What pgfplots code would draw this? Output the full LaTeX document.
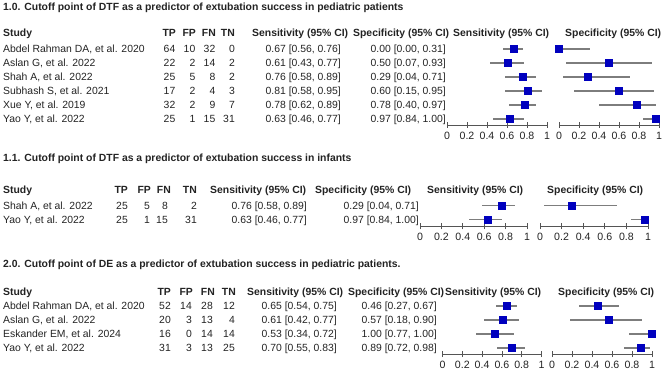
\documentclass[border=0pt]{standalone}
\usepackage{pgfplots}
\pgfplotsset{compat=1.18}
\usepackage{fontspec}
\setmainfont{Liberation Sans}
\definecolor{sq}{RGB}{0,0,190}
\definecolor{ci}{RGB}{125,125,125}
\definecolor{txt}{RGB}{35,35,35}
\definecolor{ax}{RGB}{85,85,85}
\newcommand\tf{\fontsize{10.6}{11}\selectfont}
\pgfplotsset{forest/.style={
  anchor=south west, y=14pt, ymax=-0.3,
  xmin=0, xmax=1, axis x line*=bottom, axis y line=none, ytick=\empty,
  xtick={0,0.2,0.4,0.6,0.8,1},
  xticklabels={\tf 0,\tf 0.2,\tf 0.4,\tf 0.6,\tf 0.8,\tf 1},
  tick align=center, major tick length=6pt,
  every tick/.style={ax, line width=0.8pt},
  x axis line style={ax, line width=0.8pt},
  xticklabel style={text=txt, yshift=-0.5pt},
  clip=false,
}}
\pgfplotsset{ptstyle/.style={only marks, mark=square*, mark size=3.5pt,
  mark options={fill=sq, draw=sq},
  error bars/.cd, x dir=both, x explicit,
  error bar style={ci, line width=1.3pt}, error mark=none}}
\newcommand\tl[3]{\node[anchor=base west,inner sep=0pt] at (#1pt,-#2pt) {#3};}
\newcommand\tr[3]{\node[anchor=base east,inner sep=0pt] at (#1pt,-#2pt) {#3};}
\begin{document}
\begin{tikzpicture}
\useasboundingbox (0pt,0pt) rectangle (666pt,-371pt);
\begin{scope}[font=\fontsize{10.4}{12.5}\selectfont, text=txt]
% ---------- Section 1.0 ----------
\tl{3}{10.7}{\bfseries 1.0. Cutoff point of DTF as a predictor of extubation success in pediatric patients}
\tl{3}{36.7}{\bfseries Study}
\tr{176}{36.7}{\bfseries TP}\tr{196}{36.7}{\bfseries FP}\tr{216}{36.7}{\bfseries FN}\tr{235}{36.7}{\bfseries TN}
\tl{252}{36.7}{\bfseries Sensitivity (95\% CI)}
\tl{353}{36.7}{\bfseries Specificity (95\% CI)}
\tl{453}{36.7}{\bfseries Sensitivity (95\% CI)}
\tl{565}{36.7}{\bfseries Specificity (95\% CI)}
\foreach \y/\s/\a/\b/\c/\d/\se/\sp in {
 52.7/Abdel Rahman DA{,} et al. 2020/64/10/32/0/0.67 [0.56{,} 0.76]/0.00 [0.00{,} 0.31],
 66.7/Aslan G{,} et al. 2022/22/2/14/2/0.61 [0.43{,} 0.77]/0.50 [0.07{,} 0.93],
 80.7/Shah A{,} et al. 2022/25/5/8/2/0.76 [0.58{,} 0.89]/0.29 [0.04{,} 0.71],
 94.7/Subhash S{,} et al. 2021/17/2/4/3/0.81 [0.58{,} 0.95]/0.60 [0.15{,} 0.95],
 108.7/Xue Y{,} et al. 2019/32/2/9/7/0.78 [0.62{,} 0.89]/0.78 [0.40{,} 0.97],
 122.7/Yao Y{,} et al. 2022/25/1/15/31/0.63 [0.46{,} 0.77]/0.97 [0.84{,} 1.00]}{
 \tl{3}{\y}{\s}\tr{175.5}{\y}{\a}\tr{195.5}{\y}{\b}\tr{215.5}{\y}{\c}\tr{235}{\y}{\d}
 \tr{341}{\y}{\se}\tr{446}{\y}{\sp}
}
% ---------- Section 1.1 ----------
\tl{3}{161.7}{\bfseries 1.1. Cutoff point of DTF as a predictor of extubation success in infants}
\tl{3}{193.7}{\bfseries Study}
\tr{128}{193.7}{\bfseries TP}\tr{151}{193.7}{\bfseries FP}\tr{171}{193.7}{\bfseries FN}\tr{197}{193.7}{\bfseries TN}
\tl{210}{193.7}{\bfseries Sensitivity (95\% CI)}
\tl{315}{193.7}{\bfseries Specificity (95\% CI)}
\tl{427}{193.7}{\bfseries Sensitivity (95\% CI)}
\tl{547}{193.7}{\bfseries Specificity (95\% CI)}
\foreach \y/\s/\a/\b/\c/\d/\se/\sp in {
 209.2/Shah A{,} et al. 2022/25/5/8/2/0.76 [0.58{,} 0.89]/0.29 [0.04{,} 0.71],
 223.2/Yao Y{,} et al. 2022/25/1/15/31/0.63 [0.46{,} 0.77]/0.97 [0.84{,} 1.00]}{
 \tl{3}{\y}{\s}\tr{128}{\y}{\a}\tr{150}{\y}{\b}\tr{168}{\y}{\c}\tr{197}{\y}{\d}
 \tr{307}{\y}{\se}\tr{419}{\y}{\sp}
}
% ---------- Section 2.0 ----------
\tl{3}{267}{\bfseries 2.0. Cutoff point of DE as a predictor of extubation success in pediatric patients.}
\tl{3}{295.4}{\bfseries Study}
\tr{171}{295.4}{\bfseries TP}\tr{193}{295.4}{\bfseries FP}\tr{215}{295.4}{\bfseries FN}\tr{236}{295.4}{\bfseries TN}
\tl{247}{295.4}{\bfseries Sensitivity (95\% CI)}
\tl{348}{295.4}{\bfseries Specificity (95\% CI)}
\tl{445}{295.4}{\bfseries Sensitivity (95\% CI)}
\tl{558}{295.4}{\bfseries Specificity (95\% CI)}
\foreach \y/\s/\a/\b/\c/\d/\se/\sp in {
 309.7/Abdel Rahman DA{,} et al. 2020/52/14/28/12/0.65 [0.54{,} 0.75]/0.46 [0.27{,} 0.67],
 323.7/Aslan G{,} et al. 2022/20/3/13/4/0.61 [0.42{,} 0.77]/0.57 [0.18{,} 0.90],
 337.7/Eskander EM{,} et al. 2024/16/0/14/14/0.53 [0.34{,} 0.72]/1.00 [0.77{,} 1.00],
 351.7/Yao Y{,} et al. 2022/31/3/13/25/0.70 [0.55{,} 0.83]/0.89 [0.72{,} 0.98]}{
 \tl{3}{\y}{\s}\tr{171}{\y}{\a}\tr{192}{\y}{\b}\tr{213}{\y}{\c}\tr{235}{\y}{\d}
 \tr{337}{\y}{\se}\tr{437}{\y}{\sp}
}
\end{scope}
% ---------- Forest axes, section 1.0 ----------
\begin{axis}[forest, at={(447pt,-125pt)}, x=100pt, ymin=-6.43]
\addplot[ptstyle] coordinates {
 (0.67,-1) += (0.09,0) -= (0.11,0)
 (0.61,-2) += (0.16,0) -= (0.18,0)
 (0.76,-3) += (0.13,0) -= (0.18,0)
 (0.81,-4) += (0.14,0) -= (0.23,0)
 (0.78,-5) += (0.11,0) -= (0.16,0)
 (0.63,-6) += (0.14,0) -= (0.17,0)
};
\end{axis}
\begin{axis}[forest, at={(559pt,-125pt)}, x=100pt, ymin=-6.43]
\addplot[ptstyle] coordinates {
 (0.00,-1) += (0.31,0) -= (0.00,0)
 (0.50,-2) += (0.43,0) -= (0.43,0)
 (0.29,-3) += (0.42,0) -= (0.25,0)
 (0.60,-4) += (0.35,0) -= (0.45,0)
 (0.78,-5) += (0.19,0) -= (0.38,0)
 (0.97,-6) += (0.03,0) -= (0.13,0)
};
\end{axis}
% ---------- Forest axes, section 1.1 ----------
\begin{axis}[forest, at={(420pt,-226.5pt)}, x=107pt, ymin=-2.5]
\addplot[ptstyle] coordinates {
 (0.76,-1) += (0.13,0) -= (0.18,0)
 (0.63,-2) += (0.14,0) -= (0.17,0)
};
\end{axis}
\begin{axis}[forest, at={(540pt,-226.5pt)}, x=108pt, ymin=-2.5]
\addplot[ptstyle] coordinates {
 (0.29,-1) += (0.42,0) -= (0.25,0)
 (0.97,-2) += (0.03,0) -= (0.13,0)
};
\end{axis}
% ---------- Forest axes, section 2.0 ----------
\begin{axis}[forest, at={(442.5pt,-354pt)}, x=99pt, ymin=-4.43]
\addplot[ptstyle] coordinates {
 (0.65,-1) += (0.10,0) -= (0.11,0)
 (0.61,-2) += (0.16,0) -= (0.19,0)
 (0.53,-3) += (0.19,0) -= (0.19,0)
 (0.70,-4) += (0.13,0) -= (0.15,0)
};
\end{axis}
\begin{axis}[forest, at={(552pt,-354pt)}, x=100pt, ymin=-4.43]
\addplot[ptstyle] coordinates {
 (0.46,-1) += (0.21,0) -= (0.19,0)
 (0.57,-2) += (0.33,0) -= (0.39,0)
 (1.00,-3) += (0.00,0) -= (0.23,0)
 (0.89,-4) += (0.09,0) -= (0.17,0)
};
\end{axis}
\end{tikzpicture}
\end{document}
